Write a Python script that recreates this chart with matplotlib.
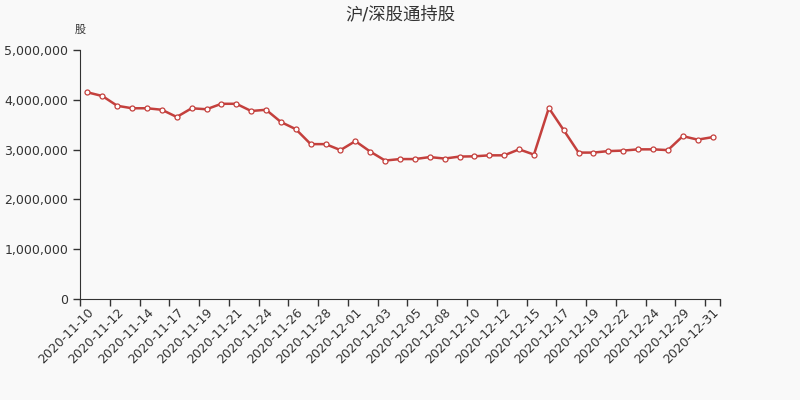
import numpy as np
import matplotlib.pyplot as plt
from matplotlib.ticker import FuncFormatter, FixedLocator
plt.rcParams['font.family'] = ['DejaVu Sans', 'Noto Sans CJK SC']

dates = ["2020-11-10", "2020-11-11", "2020-11-12", "2020-11-13", "2020-11-14",
         "2020-11-16", "2020-11-17", "2020-11-18", "2020-11-19", "2020-11-20",
         "2020-11-21", "2020-11-23", "2020-11-24", "2020-11-25", "2020-11-26",
         "2020-11-27", "2020-11-28", "2020-11-30", "2020-12-01", "2020-12-02",
         "2020-12-03", "2020-12-04", "2020-12-05", "2020-12-07", "2020-12-08",
         "2020-12-09", "2020-12-10", "2020-12-11", "2020-12-12", "2020-12-14",
         "2020-12-15", "2020-12-16", "2020-12-17", "2020-12-18", "2020-12-19",
         "2020-12-21", "2020-12-22", "2020-12-23", "2020-12-24", "2020-12-26",
         "2020-12-29", "2020-12-30", "2020-12-31"]

holdings = [4150000, 4076000, 3880000, 3830000, 3830000, 3800000, 3655000, 3830000,
            3810000, 3920000, 3920000, 3775000, 3800000, 3554000, 3410000, 3110000,
            3110000, 2990000, 3170000, 2960000, 2780000, 2810000, 2810000, 2850000,
            2820000, 2860000, 2865000, 2885000, 2885000, 3005000, 2900000, 3835000,
            3390000, 2940000, 2940000, 2970000, 2980000, 3005000, 3005000, 2990000,
            3270000, 3200000, 3250000]

bg = '#f9f9f9'
fig = plt.figure(figsize=(8, 4), dpi=100, facecolor=bg)
ax = fig.add_axes([0.1, 0.2525, 0.8, 0.6225], facecolor=bg)

x = np.arange(len(dates))
ax.plot(x, holdings, color='#c4403d', linewidth=1.8, marker='o', markersize=3.6,
        markerfacecolor='white', markeredgecolor='#c4403d', markeredgewidth=0.9)

ax.set_xlim(-0.5, len(dates) - 0.5)
ax.set_ylim(0, 5000000)
ax.set_yticks(np.arange(0, 5000001, 1000000))
ax.yaxis.set_major_formatter(FuncFormatter(lambda v, p: f"{int(v):,}"))

ax.set_xticks(x[::2])
ax.set_xticklabels(dates[::2], rotation=45, ha='right', rotation_mode='anchor')
bounds = list(np.arange(-0.5, len(dates), 2)) + [len(dates) - 0.5]
ax.xaxis.set_minor_locator(FixedLocator(bounds))
ax.tick_params(axis='x', which='major', length=0, pad=5)
ax.tick_params(axis='x', which='minor', length=5, color='#333333', width=1)
ax.tick_params(axis='y', length=5, color='#333333', width=1)
ax.tick_params(labelsize=9, labelcolor='#333333')

for s in ['top', 'right']:
    ax.spines[s].set_visible(False)
for s in ['left', 'bottom']:
    ax.spines[s].set_color('#333333')

fig.text(0.5, 0.965, "沪/深股通持股", ha='center', va='center', fontsize=12.5, color='#333333')
fig.text(0.1, 0.926, "股", ha='center', va='center', fontsize=8, color='#333333')

plt.savefig("out.png", dpi=100, facecolor=bg)
